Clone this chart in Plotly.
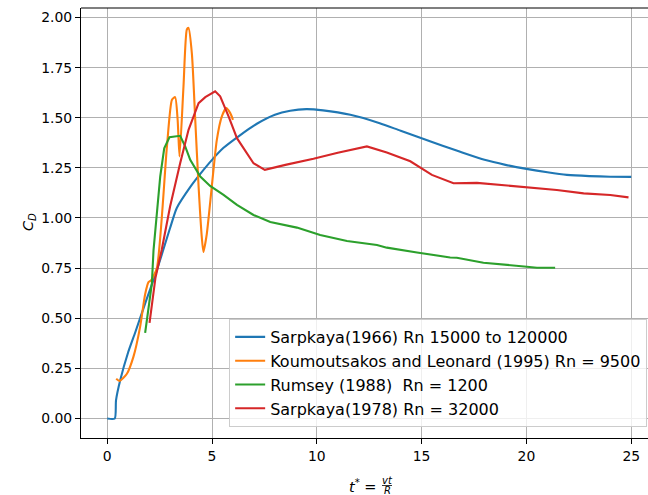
import plotly.graph_objects as go

# Drag coefficient histories C_D(t*) for an impulsively started cylinder
sarpkaya66_t = [0.0, 0.36, 0.42, 0.62, 1.0, 1.34, 1.8, 2.37, 3.0, 3.32, 4.0, 4.44, 5.0, 5.55,
                6.3, 7.14, 8.0, 8.73, 9.5, 10.3, 11.6, 13.0, 14.0, 15.0, 16.0, 16.84, 18.0,
                19.0, 20.0, 21.0, 21.93, 23.0, 24.0, 25.0]
sarpkaya66_cd = [0.0, 0.0, 0.09, 0.19, 0.33, 0.43, 0.57, 0.74, 0.95, 1.05, 1.16, 1.22, 1.29, 1.35,
                 1.41, 1.47, 1.515, 1.535, 1.543, 1.537, 1.515, 1.473, 1.435, 1.398, 1.36, 1.33, 1.29,
                 1.265, 1.245, 1.228, 1.215, 1.209, 1.206, 1.205]

koumoutsakos_t = [0.43, 0.59, 0.94, 1.25, 1.57, 1.81, 1.97, 2.1, 2.37, 2.85, 3.09, 3.24, 3.36, 3.45,
                  3.64, 3.8, 3.88, 4.04, 4.2, 4.36, 4.51, 4.59, 4.75, 4.99, 5.23, 5.47, 5.68, 5.87, 6.0]
koumoutsakos_cd = [0.198, 0.187, 0.223, 0.307, 0.457, 0.62, 0.68, 0.69, 0.75, 1.357, 1.59, 1.603, 1.49, 1.307,
                   1.657, 1.94, 1.948, 1.82, 1.49, 1.157, 0.907, 0.83, 0.92, 1.157, 1.39, 1.507, 1.548, 1.523, 1.49]

rumsey_t = [1.81, 2.13, 2.21, 2.37, 2.53, 2.72, 2.97, 3.48, 3.72, 3.96, 4.44, 4.91, 5.55, 6.19, 6.98,
            7.78, 8.73, 9.05, 10.16, 11.44, 12.87, 13.34, 14.78, 16.36, 16.68, 17.95, 20.02, 20.5, 21.37]
rumsey_cd = [0.427, 0.673, 0.84, 1.04, 1.207, 1.348, 1.403, 1.41, 1.357, 1.29, 1.207, 1.16, 1.115, 1.065, 1.015,
             0.98, 0.957, 0.952, 0.915, 0.885, 0.865, 0.852, 0.828, 0.803, 0.802, 0.777, 0.757, 0.752, 0.752]

sarpkaya78_t = [2.02, 2.3, 2.6, 3.0, 3.48, 3.88, 4.36, 4.68, 5.15, 5.39, 5.79, 6.19, 6.98, 7.52,
                8.5, 9.84, 11.0, 12.39, 13.34, 14.46, 15.49, 16.52, 17.64, 19.98, 21.45, 22.73, 24.0, 24.87]
sarpkaya78_cd = [0.477, 0.70, 0.84, 1.057, 1.273, 1.44, 1.573, 1.603, 1.632, 1.607, 1.507, 1.398, 1.273, 1.24,
                 1.265, 1.295, 1.325, 1.357, 1.327, 1.283, 1.215, 1.173, 1.175, 1.153, 1.14, 1.123, 1.115, 1.103]

series = [
    ("Sarpkaya(1966) Rn 15000 to 120000", sarpkaya66_t, sarpkaya66_cd, "#1f77b4", "spline"),
    ("Koumoutsakos and Leonard (1995) Rn = 9500", koumoutsakos_t, koumoutsakos_cd, "#ff7f0e", "spline"),
    ("Rumsey (1988)  Rn = 1200", rumsey_t, rumsey_cd, "#2ca02c", "linear"),
    ("Sarpkaya(1978) Rn = 32000", sarpkaya78_t, sarpkaya78_cd, "#d62728", "linear"),
]

FONT = "DejaVu Sans"
W, H = 648, 495
L, R, T, B = 81, 0, 8, 57
plot_w, plot_h = W - L - R, H - T - B


def px_x(px):
    return (px - L) / plot_w


def px_y(py):
    return (H - B - py) / plot_h


fig = go.Figure()
for i, (name, t, cd, color, shape) in enumerate(series):
    line = dict(color=color, width=2.1, shape=shape)
    if shape == "spline":
        line["smoothing"] = 0.6
    fig.add_trace(go.Scatter(x=t, y=cd, mode="lines", name=name, line=line,
                             legendgroup=f"g{i}"))

axis_common = dict(
    showgrid=True, gridcolor="#b0b0b0", gridwidth=1.1,
    showline=True, linecolor="black", linewidth=1.1,
    ticks="outside", ticklen=5, tickwidth=1.1, tickcolor="black",
    tickfont=dict(family=FONT, size=13.9, color="black"),
    zeroline=False,
)

fig.update_layout(
    width=W, height=H,
    margin=dict(l=L, r=R, t=T, b=B),
    paper_bgcolor="white", plot_bgcolor="white",
    font=dict(family=FONT, size=13.9, color="black"),
    xaxis=dict(range=[-1.25, 25.8], tickvals=[0, 5, 10, 15, 20, 25], **axis_common),
    yaxis=dict(range=[-0.0975, 2.0475], dtick=0.25, tick0=0, tickformat=".2f", **axis_common),
    legend=dict(
        x=0.9985, y=px_y(427), xanchor="right", yanchor="bottom",
        bgcolor="rgba(255,255,255,0.8)", bordercolor="#cccccc", borderwidth=1,
        font=dict(family=FONT, size=16, color="black"),
        traceorder="grouped", tracegroupgap=0,
    ),
    showlegend=True,
)

# top spine
fig.add_shape(type="line", xref="paper", yref="paper", x0=0, x1=1, y0=1, y1=1,
              line=dict(color="black", width=1.1))

# y-axis label C_D
fig.add_annotation(text="<i>C<sub>D</sub></i>", xref="paper", yref="paper",
                   x=px_x(18), y=px_y(222), textangle=-90, showarrow=False,
                   font=dict(family=FONT, size=14.5, color="black"))

# x-axis label t* = vt / R
fig.add_annotation(text="<i>t</i><sup>*</sup> =", xref="paper", yref="paper",
                   x=px_x(379), y=px_y(486), xanchor="right", yanchor="middle", showarrow=False,
                   font=dict(family=FONT, size=14.5, color="black"))
fig.add_annotation(text="<i>vt</i>", xref="paper", yref="paper",
                   x=px_x(387), y=px_y(480), xanchor="center", yanchor="middle", showarrow=False,
                   font=dict(family=FONT, size=10, color="black"))
fig.add_annotation(text="<i>R</i>", xref="paper", yref="paper",
                   x=px_x(387), y=px_y(490), xanchor="center", yanchor="middle", showarrow=False,
                   font=dict(family=FONT, size=10, color="black"))
fig.add_shape(type="line", xref="paper", yref="paper",
              x0=px_x(382), x1=px_x(392), y0=px_y(485.5), y1=px_y(485.5),
              line=dict(color="black", width=0.8))

fig.write_html("out.html")
